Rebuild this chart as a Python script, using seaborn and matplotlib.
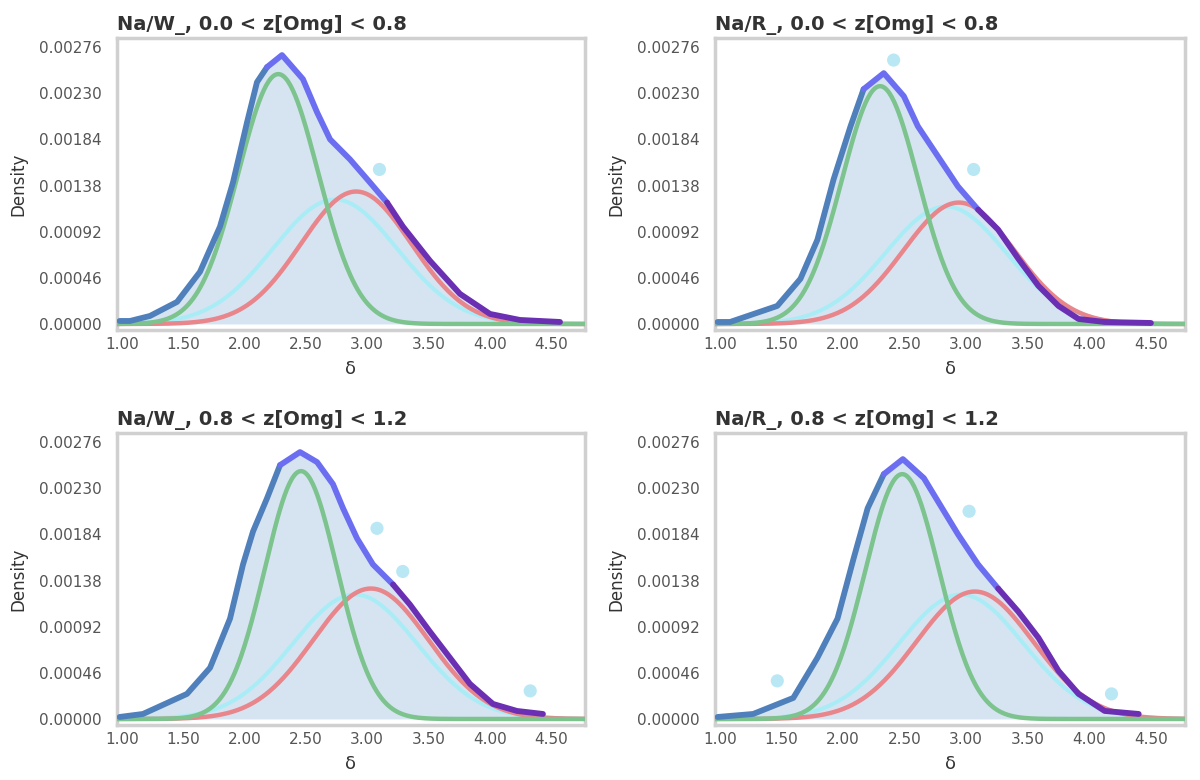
import numpy as np
import pandas as pd
import matplotlib
matplotlib.use("Agg")
import matplotlib.pyplot as plt
import seaborn as sns

# ---------------- data ----------------
titles = [
    "Na/W_, 0.0 < z[Omg] < 0.8",
    "Na/R_, 0.0 < z[Omg] < 0.8",
    "Na/W_, 0.8 < z[Omg] < 1.2",
    "Na/R_, 0.8 < z[Omg] < 1.2",
]
x_label = "δ"
y_label = "Density"
xtick_values = [1.0, 1.5, 2.0, 2.5, 3.0, 3.5, 4.0, 4.5]
ytick_values = [0.0, 0.00046, 0.00092, 0.00138, 0.00184, 0.00230, 0.00276]

p1_x = [0.98, 1.065, 1.228, 1.449, 1.636, 1.799, 1.905, 2.020, 2.101, 2.183, 2.305, 2.476,
        2.591, 2.697, 2.860, 3.023, 3.162, 3.292, 3.512, 3.757, 4.002, 4.246, 4.573]
p1_y = [0.00003, 0.00003, 0.00008, 0.00022, 0.00052, 0.00097, 0.00141, 0.00201, 0.00241,
        0.00256, 0.00268, 0.00244, 0.00211, 0.00184, 0.00164, 0.00141, 0.00121, 0.00097,
        0.00063, 0.00030, 0.00010, 0.00004, 0.00002]

p2_x = [0.98, 1.082, 1.465, 1.653, 1.791, 1.922, 2.060, 2.166, 2.330, 2.493, 2.607, 2.770,
        2.933, 3.096, 3.259, 3.423, 3.586, 3.749, 3.912, 4.124, 4.500]
p2_y = [0.00002, 0.00002, 0.00018, 0.00045, 0.00084, 0.00144, 0.00197, 0.00234, 0.00250,
        0.00227, 0.00197, 0.00167, 0.00137, 0.00114, 0.00094, 0.00065, 0.00038, 0.00018,
        0.00005, 0.00002, 0.00001]

p3_x = [0.98, 1.171, 1.530, 1.718, 1.881, 1.987, 2.069, 2.183, 2.289, 2.452, 2.591, 2.721,
        2.803, 2.917, 3.047, 3.211, 3.349, 3.512, 3.675, 3.838, 4.026, 4.222, 4.434]
p3_y = [0.00002, 0.00005, 0.00025, 0.00051, 0.00100, 0.00154, 0.00187, 0.00220, 0.00253,
        0.00266, 0.00256, 0.00234, 0.00210, 0.00180, 0.00154, 0.00134, 0.00114, 0.00087,
        0.00061, 0.00035, 0.00015, 0.00008, 0.00005]

p4_x = [0.98, 1.269, 1.595, 1.791, 1.954, 2.085, 2.199, 2.330, 2.485, 2.656, 2.819, 2.933,
        3.096, 3.259, 3.423, 3.586, 3.749, 3.912, 4.124, 4.401]
p4_y = [0.00002, 0.00005, 0.00021, 0.00061, 0.00100, 0.00160, 0.00210, 0.00244, 0.00259,
        0.00240, 0.00207, 0.00184, 0.00154, 0.00130, 0.00107, 0.00081, 0.00048, 0.00025,
        0.00008, 0.00005]

# fitted Gaussian components (centre, width, peak height)
green_mu = [2.275, 2.300, 2.460, 2.480]
green_sigma = [0.325, 0.310, 0.295, 0.300]
green_amp = [0.00249, 0.00237, 0.00247, 0.00244]

red_mu = [2.910, 2.940, 3.030, 3.070]
red_sigma = [0.450, 0.450, 0.470, 0.475]
red_amp = [0.00132, 0.00121, 0.00130, 0.00127]

cyan_mu = [2.737, 2.835, 2.900, 2.958]
cyan_sigma = [0.506, 0.490, 0.506, 0.506]
cyan_amp = [0.00124, 0.00117, 0.00124, 0.00124]

# isolated high bins sticking out of the curve
out1_x, out1_y = [3.10], [0.00154]
out2_x, out2_y = [2.41, 3.06], [0.00263, 0.00154]
out3_x, out3_y = [3.08, 3.29, 4.33], [0.00190, 0.00147, 0.00028]
out4_x, out4_y = [1.465, 3.023, 4.18], [0.00038, 0.00207, 0.00025]

curves_x = [p1_x, p2_x, p3_x, p4_x]
curves_y = [p1_y, p2_y, p3_y, p4_y]
outs_x = [out1_x, out2_x, out3_x, out4_x]
outs_y = [out1_y, out2_y, out3_y, out4_y]

# colour change points along the observed curve (style)
split_lo = [2.183, 2.166, 2.289, 2.330]
split_hi = [3.162, 3.096, 3.211, 3.259]

# ---------------- figure ----------------
sns.set_theme(style="white")
plt.rcParams["font.family"] = ["DejaVu Sans"]

fig = plt.figure(figsize=(12, 7.8), dpi=100)
W, H = 1200, 780
boxes = [
    (117, 38, 585, 330),
    (715, 38, 1185, 330),
    (117, 433, 585, 725),
    (715, 433, 1185, 725),
]

XMIN, XMAX = 0.959, 4.777
grid = np.linspace(XMIN, XMAX, 400)


def gauss(mu, s, a):
    return a * np.exp(-0.5 * ((grid - mu) / s) ** 2)


line_kw = dict(solid_joinstyle="round", solid_capstyle="round")

for i, (l, t, r, b) in enumerate(boxes):
    ax = fig.add_axes([l / W, 1 - b / H, (r - l) / W, (b - t) / H])
    cx = np.array(curves_x[i])
    cy = np.array(curves_y[i])
    df = pd.DataFrame({"x": cx, "y": cy})

    # shaded area under observed curve
    ax.fill_between(cx, 0, cy, color="#cfe0f0", alpha=0.85, lw=0, zorder=1)

    # components
    sns.lineplot(x=grid, y=gauss(cyan_mu[i], cyan_sigma[i], cyan_amp[i]), ax=ax,
                 color="#a6eef6", lw=3.0, alpha=0.9, zorder=2)
    sns.lineplot(x=grid, y=gauss(red_mu[i], red_sigma[i], red_amp[i]), ax=ax,
                 color="#e8868c", lw=3.2, zorder=3)
    sns.lineplot(x=grid, y=gauss(green_mu[i], green_sigma[i], green_amp[i]), ax=ax,
                 color="#7cc38e", lw=3.2, zorder=4)

    # observed curve, coloured in three parts (sharing their end points)
    k1 = int(np.argmin(np.abs(cx - split_lo[i])))
    k2 = int(np.argmin(np.abs(cx - split_hi[i])))
    left = df.iloc[:k1 + 1]
    mid = df.iloc[k1:k2 + 1]
    right = df.iloc[k2:]
    sns.lineplot(data=left, x="x", y="y", ax=ax, color="#4f80bb", lw=4.2, zorder=5, **line_kw)
    sns.lineplot(data=mid, x="x", y="y", ax=ax, color="#6b6ef0", lw=4.2, zorder=5, **line_kw)
    sns.lineplot(data=right, x="x", y="y", ax=ax, color="#6a2fb2", lw=4.2, zorder=5, **line_kw)

    sns.scatterplot(x=outs_x[i], y=outs_y[i], ax=ax, color="#a9e2f2", s=90,
                    alpha=0.8, edgecolor="none", zorder=6)

    ax.set_xlim(XMIN, XMAX)
    ax.set_ylim(-0.00006, 0.00285)
    ax.set_xticks(xtick_values)
    ax.set_xticklabels([f"{v:.2f}" for v in xtick_values])
    ax.set_yticks(ytick_values)
    ax.set_yticklabels([f"{v:.5f}" for v in ytick_values])
    ax.tick_params(axis="both", labelsize=11, colors="#555555", length=0)
    ax.tick_params(axis="y", pad=11)
    ax.tick_params(axis="x", pad=5)
    ax.set_xlabel(x_label, fontsize=13, color="#333333", labelpad=6)
    ax.set_ylabel(y_label, fontsize=12, color="#333333", labelpad=8)
    ax.set_title(titles[i], loc="left", fontsize=14, fontweight="semibold",
                 color="#333333", pad=6)
    for sp in ax.spines.values():
        sp.set_color("#d0d0d0")
        sp.set_linewidth(2.5)

fig.savefig("out.png", dpi=100)
